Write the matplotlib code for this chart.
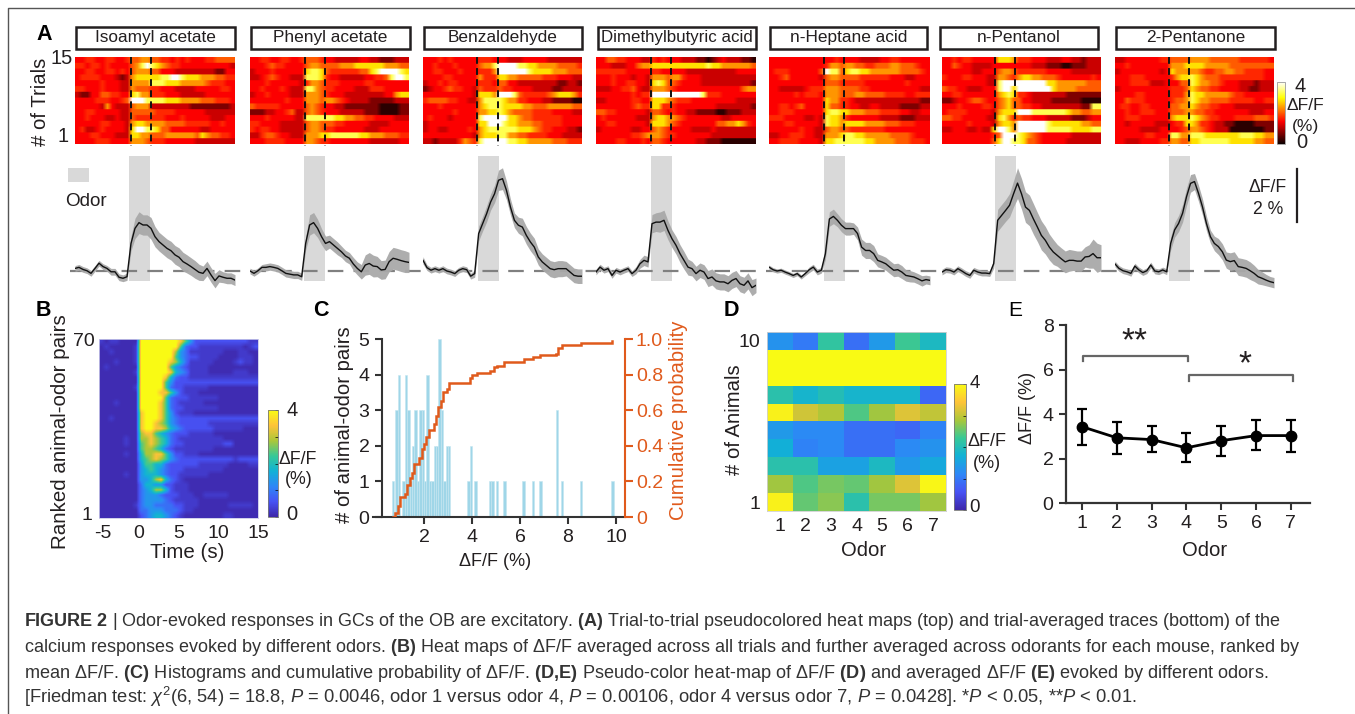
import numpy as np
import matplotlib
matplotlib.use("Agg")
import matplotlib.pyplot as plt
from matplotlib.colors import LinearSegmentedColormap
from matplotlib.patches import Rectangle
from matplotlib.transforms import ScaledTranslation

plt.rcParams['font.family'] = ['Liberation Sans', 'DejaVu Sans']
plt.rcParams['mathtext.fontset'] = 'custom'
plt.rcParams['mathtext.rm'] = 'Liberation Sans'
plt.rcParams['mathtext.it'] = 'Liberation Sans:italic'
plt.rcParams['mathtext.bf'] = 'Liberation Sans:bold'
plt.rcParams['mathtext.fallback'] = 'stixsans'

W, H = 1355, 714

odors = ["Isoamyl acetate", "Phenyl acetate", "Benzaldehyde", "Dimethylbutyric acid",
         "n-Heptane acid", "n-Pentanol", "2-Pentanone"]

heat1 = ["33443344334556655443434333445555","44344343333568987654433333333332","33443344343566655333222222221133",
         "34444333212677777889987776665544","33333433322666688877766666544433","44333433322655544333222233333443",
         "21133554433786644433322222333333","33334443345999888877766665554443","33333263222566622222222111111112",
         "33443333322555554444333333222222","33433322322544444433343333322233","33333443332677666655554444433433",
         "34223433332799887553333332233333","33344333222776655566666657655443","33334443333666544433333322222222"]
heat2 = ["33443344334555433222223322111222","33345443333566555566677777766655","23334333333788754444445578999987",
         "22345433222888743322222334458998","33343333332466544433333443333333","33433343222886544333322244433333",
         "23343333222666543332222222233677","33333334333666566543222211111222","54444433333565433221111111000011",
         "11122334522565433322222111000011","33343333322888888776655443333222","44333322222566555443333322223333",
         "43443322222566544333333222333333","22455433222666778888887766655544","33344443333665443333333322222233"]
heat3 = ["33343433333444333222333332222222","33433343333566899998877666655554","33443334333444699999987777666555",
         "33334433333644477665555544433322","23343443333444355332222222211221","12334544332544454433332222112222",
         "33333333332777699985444445677764","45555443322688887664433322111100","33343333333678887777665556666655",
         "33333343333667787655554444333322","34333233333899999776554444443333","23333333333779998776665544443333",
         "23322333343678888887776544333221","33333333332677788665544443332222","22122224654899999887766666555444"]
heat4 = ["33554433322434333222110123222110","33322233566777777777778776666665","44444433333443333322222222223333",
         "33343332332666566433322222222222","33343344332787554333322222222221","22233445322666543333333333333566",
         "33333334344999999999984443333333","22333334433777654443333333332222","33333334544774443333333322222221",
         "55443333332554343322111100111222","34333333222677665433333332233333","33443333332777654333333355667643",
         "23333332233565433332222322222222","33333334456665443333333222222222","33334433343554333333221110000000"]
heat5 = ["33333333333334333322223344333333","33333333333466566554455566555433","34443333335988578877666666555543",
         "33453333332566555544444433322333","33333333333555444443333333343333","33222223444666555544333333333322",
         "33333434443666555665555444433444","33333333333766443222222222222211","33443453333755443322332222111122",
         "33444333333788776665554444332233","44433332232877643333332222111222","33344333332877677776666555444333",
         "33333343322566554444444333333333","22334443322666788776666655554333","33444433332778888887766665554443"]
heat6 = ["33434433333777644433322233221222","33543322223333333322211100111222","33333322333566544444433333222222",
         "43334433322665467766555433333343","33333333322899999999977666666555","54433222333899799999997666655555",
         "33443333333678744322222221111111","11233455433567553322221111110000","33343333443567554433222222221188",
         "34444333332677799988888887665566","55443333322786454433322222111233","33333433332677699999987777776655",
         "22333223227998699999988888777788","33333333334599987654333333222222","33333333335799887554333332222222"]
heat7 = ["22333333344555566665555554444443","33433333333666777766666555555555","23333333323766666544556655444433",
         "33344433333467787655544444444433","33344442223335587665543332221222","23333333333444576554433332211222",
         "33334433333444687766666544333333","33544433333455687665555444443344","34433443333556676554433322222222",
         "33433444333555665544333333322233","33444333333677787654433344445554","33233333222344776443221100001111",
         "33333222233334566543222000000011","33333344333886688877777778887766","33222333344665577888888777776655"]
trial_heat = [heat1, heat2, heat3, heat4, heat5, heat6, heat7]
# ΔF/F (%) meant by each digit of the strings above
trial_levels = [0.2, 0.7, 1.15, 1.45, 1.7, 2.0, 2.35, 2.8, 3.3, 4.0]
rank_levels = [0.08, 0.28, 0.55, 0.9, 1.35, 1.8, 2.35, 2.85, 3.4, 4.0]

trace1 = [.10,.14,.06,.01,-.09,.10,.30,.17,.10,-.03,-.03,-.24,-.28,-.22,1.06,1.64,1.86,1.77,1.77,1.64,1.32,1.13,1.00,.87,.78,.62,.53,.36,.27,.17,.06,-.05,-.09,.10,-.15,-.37,-.19,-.24,-.28,-.28,-.35]
trace2 = [0,-.09,.01,.14,.14,.17,.14,.10,.01,-.09,-.12,-.15,-.15,-.22,1.06,1.77,1.86,1.64,1.32,1.06,1.13,1.00,.87,.74,.58,.49,.27,.10,-.03,.23,.29,.19,.17,.04,.06,.36,.49,.45,.40,.36,.33]
trace3 = [.41,.13,.03,.09,.03,.09,0,-.04,-.10,.03,.09,.05,-.20,-.10,1.44,1.82,2.20,2.65,2.97,3.49,3.55,3.10,2.46,1.95,1.76,1.69,1.37,1.12,.92,.54,.35,.22,.09,.05,.09,.09,.09,-.04,-.17,-.20,-.20]
trace4 = [-.04,.15,.03,.09,-.17,.03,-.04,.03,.09,-.10,.03,.28,.41,.35,1.82,1.88,1.88,1.95,1.56,1.24,.99,.67,.41,.15,.09,-.10,.03,-.04,-.29,-.23,-.38,-.42,-.42,-.49,-.36,-.29,-.49,-.55,-.38,-.64,-.55]
trace5 = [.15,.05,0,.03,-.04,-.10,-.17,-.10,-.23,-.10,.05,.15,-.04,.03,.66,2.00,2.10,1.95,1.76,1.63,1.63,1.63,1.44,.92,.79,.79,.67,.41,.35,.28,.15,.03,.05,-.04,-.17,-.20,-.23,-.30,-.38,-.33,-.36]
trace6 = [-.04,.05,.03,-.04,.09,0,-.10,-.17,.03,-.04,-.08,-.08,-.10,.28,1.95,2.14,2.33,2.53,2.97,3.38,2.97,2.46,2.33,2.00,1.69,1.37,1.18,.92,.73,.60,.47,.35,.41,.41,.38,.38,.54,.56,.67,.51,.51]
trace7 = [.27,.10,.01,-.03,-.09,.19,.04,-.06,.01,.23,0,-.03,.04,-.03,1.06,1.58,1.83,2.22,2.86,3.37,3.44,2.99,2.47,1.83,1.32,1.06,.94,.74,.42,.36,.40,.17,.14,.10,.01,-.09,-.22,-.28,-.35,-.41,-.45]
traces = [trace1, trace2, trace3, trace4, trace5, trace6, trace7]

sem1 = [.11,.11,.11,.11,.11,.11,.11,.11,.11,.13,.13,.13,.13,.14,.28,.39,.42,.39,.39,.42,.39,.36,.36,.36,.36,.36,.36,.36,.35,.34,.34,.31,.28,.28,.28,.28,.24,.21,.21,.21,.21]
sem2 = [.11,.11,.11,.11,.14,.14,.14,.14,.14,.14,.14,.14,.14,.14,.25,.39,.39,.35,.31,.28,.25,.25,.25,.22,.22,.22,.25,.25,.28,.39,.42,.42,.39,.36,.36,.39,.42,.42,.42,.42,.39]
sem3 = [.14,.11,.11,.11,.11,.11,.11,.11,.11,.11,.11,.11,.11,.14,.28,.28,.31,.31,.34,.39,.42,.36,.31,.28,.31,.34,.34,.34,.34,.31,.31,.31,.31,.31,.31,.31,.28,.28,.28,.28,.28]
sem4 = [.11,.11,.11,.11,.11,.11,.11,.11,.11,.11,.14,.17,.20,.20,.35,.36,.39,.39,.36,.34,.34,.34,.34,.31,.28,.28,.28,.28,.31,.31,.31,.31,.31,.31,.31,.31,.31,.31,.31,.31,.28]
sem5 = [.08,.08,.08,.08,.08,.08,.08,.08,.08,.08,.11,.11,.11,.11,.22,.28,.28,.25,.25,.25,.25,.22,.25,.31,.31,.31,.31,.25,.25,.25,.25,.25,.25,.25,.22,.22,.20,.20,.20,.17,.17]
sem6 = [.11,.11,.11,.11,.11,.11,.11,.11,.11,.11,.11,.11,.11,.17,.42,.42,.42,.45,.50,.59,.59,.59,.59,.59,.56,.56,.53,.50,.48,.42,.42,.42,.42,.39,.39,.39,.39,.45,.56,.56,.50]
sem7 = [.11,.11,.11,.11,.11,.11,.11,.11,.11,.11,.11,.11,.11,.11,.25,.28,.31,.34,.34,.34,.31,.31,.31,.28,.25,.28,.31,.31,.31,.34,.34,.34,.34,.34,.34,.31,.28,.25,.22,.20,.20]
sems = [sem1, sem2, sem3, sem4, sem5, sem6, sem7]

rank_heat = [
 "10110000"+"999999998642222222222211","01000001"+"999999996322111111111012","00100001"+"999999974311111110001100",
 "00000001"+"999999964322111100001110","00010001"+"999999875311111000012110","01000000"+"999999643211110000000000",
 "00000001"+"999999854311110000011100","00000000"+"999998532211111111111111","00000000"+"999996422222222222222222",
 "00000001"+"999996322111110000000000","00000000"+"999988642111000000000000","00000000"+"999996322211111100000000",
 "00010000"+"999986321111100000000000","00000000"+"999986322111111100000000","00000000"+"899986421110000000000000",
 "00100000"+"899986432222222222222222","00000000"+"899876432222221111111111","00000000"+"899887543222222111111000",
 "00000000"+"788654322211111000000000","00000100"+"778765321111111110000000","00000100"+"678765322111111112200000",
 "00000000"+"677653211111111000000000","00000100"+"577886422111000000000000","00000000"+"567876432222222222212222",
 "00000000"+"466553222222111111000011","00000000"+"456543222111111110000000","00000100"+"455543221111110000000000",
 "00000000"+"445785321000000000000000","00000000"+"355442211100000000000000","00000000"+"345775211100000000000000",
 "00000000"+"344432221110011111000000","00000000"+"344443211111000000000000","00000001"+"344333322111000000111110",
 "00000000"+"334443332110000000000000","00000000"+"234554321000000001100000"]

hist_x = [.7,.85,.95,1.15,1.25,1.35,1.45,1.55,1.65,1.75,1.85,1.95,2.05,2.15,2.25,2.35,2.45,2.55,2.65,2.75,2.85,2.95,3.05,3.85,3.95,4.15,4.75,4.85,5.05,5.35,6.15,6.55,6.85,7.55,7.75,8.55,9.85]
hist_n = [1,3,4,1,4,3,1,2,3,1,3,3,1,4,1,1,2,2,5,3,1,2,2,1,2,1,1,1,1,1,1,1,1,3,1,1,1]
cdf_x = [.7,.8,.9,1.0,1.2,1.3,1.4,1.5,1.6,1.8,1.9,2.0,2.1,2.2,2.4,2.5,2.6,2.7,2.8,2.95,3.05,3.8,3.9,4.0,4.2,4.75,4.9,5.05,5.35,6.15,6.55,6.85,7.5,7.6,7.75,8.55,9.85]
cdf_y = [0,.02,.06,.11,.13,.18,.22,.25,.30,.33,.38,.41,.45,.49,.52,.57,.62,.65,.70,.72,.755,.755,.78,.80,.81,.82,.84,.85,.87,.885,.90,.91,.915,.95,.965,.98,.99]

animal_heat = [[1.3,1.0,2.2,0.9,1.4,2.3,1.9],[4,4,4,4,4,4,4],[4,4,4,4,4,4,4],
               [2.1,1.8,2.0,1.8,1.8,1.8,0.8],[3.9,3.1,2.9,2.4,2.8,3.2,3.0],[1.4,1.2,1.2,0.9,0.9,0.8,1.1],
               [1.7,1.1,1.2,0.9,0.9,1.2,1.3],[2.1,2.1,1.5,1.5,1.9,1.4,1.6],[2.8,2.4,2.6,2.5,2.8,3.2,3.95],
               [3.9,2.5,2.7,2.1,2.6,2.6,2.8]]

odor_ids = [1,2,3,4,5,6,7]
odor_mean = [3.43,2.93,2.85,2.48,2.8,3.03,3.03]
odor_hi = [4.22,3.65,3.45,3.13,3.45,3.75,3.75]
odor_lo = [2.6,2.2,2.28,1.83,2.12,2.38,2.28]

captions = [
 (622, r"$\mathbf{FIGURE\ 2}$ | Odor-evoked responses in GCs of the OB are excitatory. $\mathbf{(A)}$ Trial-to-trial pseudocolored heat maps (top) and trial-averaged traces (bottom) of the", 1261),
 (647, r"calcium responses evoked by different odors. $\mathbf{(B)}$ Heat maps of ΔF/F averaged across all trials and further averaged across odorants for each mouse, ranked by", 1283),
 (673, r"mean ΔF/F. $\mathbf{(C)}$ Histograms and cumulative probability of ΔF/F. $\mathbf{(D{,}E)}$ Pseudo-color heat-map of ΔF/F $\mathbf{(D)}$ and averaged ΔF/F $\mathbf{(E)}$ evoked by different odors.", 1253),
 (697, r"[Friedman test: $\chi^{2}$(6, 54) = 18.8, $\mathit{P}$ = 0.0046, odor 1 versus odor 4, $\mathit{P}$ = 0.00106, odor 4 versus odor 7, $\mathit{P}$ = 0.0428]. *$\mathit{P}$ < 0.05, **$\mathit{P}$ < 0.01.", 1121),
]

parula = LinearSegmentedColormap.from_list("parula", [
    (0.2422,0.1504,0.6603),(0.2810,0.3228,0.9579),(0.1786,0.5289,0.9682),(0.0689,0.6948,0.8394),
    (0.2161,0.7843,0.5923),(0.6720,0.7793,0.2227),(0.9970,0.7659,0.2199),(0.9769,0.9839,0.0805)])

DARK = '#231f20'
ORANGE = '#e05a1c'

fig = plt.figure(figsize=(W/100, H/100), dpi=100)

def axpx(x0, y0, x1, y1, **kw):
    return fig.add_axes([x0/W, 1-y1/H, (x1-x0)/W, (y1-y0)/H], **kw)

ov = axpx(0, 0, W, H, zorder=1)
ov.set_xlim(0, W); ov.set_ylim(H, 0); ov.axis('off')
top = axpx(0, 0, W, H, zorder=10)
top.set_xlim(0, W); top.set_ylim(H, 0); top.axis('off'); top.patch.set_alpha(0)

def T(x, y, s, size=13.5, ha='center', va='center', **kw):
    kw.setdefault('color', DARK)
    return top.text(x, y, s, fontsize=size, ha=ha, va=va, **kw)

# frame
top.plot([8, 8, W], [H, 8, 8], color='#555555', lw=1)

# panel letters
for x, y, s in [(44, 34, 'A'), (43, 311, 'B'), (321, 311, 'C'), (731, 311, 'D')]:
    T(x, y, s, size=15.5, fontweight='bold', color='black')
T(1015, 311, 'E', size=15, fontweight='medium', color='black')

# Panel A
heat_x = [(75,235),(250,409),(423,582),(596,756),(769,930),(942,1101),(1115,1274)]
box_x = [(76,235),(251,410),(424,582),(598,756),(770,927),(940,1098),(1116,1275)]
on_off = [(130.7,150.7),(305,325),(477,498),(651,671),(824,844),(995,1015),(1169,1189)]
rect_x = [(129,150),(304,325),(478,499),(651,672),(824,845),(995,1016),(1169,1190)]
hot = plt.get_cmap('hot')
tl = np.array(trial_levels)
for i in range(7):
    x0, x1 = heat_x[i]
    ax = axpx(x0, 57, x1, 144, zorder=3)
    arr = tl[np.array([[int(c) for c in r.ljust(32, r[-1])[:32]] for r in trial_heat[i]])]
    # repeated rows keep trials crisp while the bilinear display blurs along time
    im_a = ax.imshow(np.repeat(arr, 8, axis=0), cmap=hot, vmin=0, vmax=4, aspect='auto',
                     interpolation='bilinear', origin='upper')
    ax.axis('off')
    b0, b1 = box_x[i]
    top.add_patch(Rectangle((b0, 27), b1-b0, 22, fc='white', ec=DARK, lw=1.8))
    T((b0+b1)/2, 37.5, odors[i], size=12.4 if i != 3 else 12.2)
    for xx in on_off[i]:
        top.plot([xx, xx], [57, 146], color='#111111', lw=1.4, dashes=(3.5, 2.2))
    r0, r1 = rect_x[i]
    ov.add_patch(Rectangle((r0, 156), r1-r0, 125, fc='#d9d9d9', ec='none', zorder=1))
    tr = axpx(x0, 150, x1, 300, zorder=5)
    tr.patch.set_alpha(0)
    tr.set_ylim(-(300-271)/26, (271-150)/26)
    tr.set_xlim(0, 40)
    xs = np.arange(41)
    y = np.array(traces[i]); s = np.array(sems[i])
    tr.fill_between(xs, y-s, y+s, color='#a9a9a9', lw=0, alpha=0.95)
    tr.plot(xs, y, color='#111111', lw=1)
    tr.axis('off')
ov.plot([70, 1279], [271, 271], color='#808080', lw=1.6, dashes=(7.0, 4.6), zorder=2)

# colorbar A
cax = axpx(1277, 82, 1285, 144, zorder=4)
cb = fig.colorbar(im_a, cax=cax)
cb.set_ticks([]); cb.outline.set_edgecolor('#999999'); cb.outline.set_linewidth(.6)
T(1300, 87, '4', size=14.5); T(1305, 105, 'ΔF/F', size=12.6); T(1306, 127, '(%)', size=12.6); T(1302, 143, '0', size=14.5)
T(41, 102, '# of Trials', size=14.6, rotation=90)
T(62, 58, '15', size=14.5); T(63, 137, '1', size=14.5)
# odor key and scale bar
top.add_patch(Rectangle((68, 168), 21, 14, fc='#d9d9d9', ec='none'))
T(86, 201, 'Odor', size=13.6)
top.plot([1297, 1297], [169, 222], color=DARK, lw=1.6)
T(1268, 187, 'ΔF/F', size=12.7); T(1268, 209, '2 %', size=12.7)

# Panel B
axb = axpx(99, 339, 258, 518, zorder=3)
arr = np.array(rank_levels)[np.array([[int(c) for c in r] for r in rank_heat])]
im_b = axb.imshow(arr, cmap=parula, vmin=0, vmax=4, aspect='auto', interpolation='bilinear',
                  extent=(-5, 15, 1, 70), origin='upper')
axb.set_xticks([-5, 0, 5, 10, 15], labels=['-5', '0', '5', '10', '15']); axb.set_yticks([1, 70])
axb.tick_params(length=0, labelsize=14, labelcolor=DARK)
axb.tick_params(axis='x', pad=5)
axb.tick_params(axis='y', pad=3)
for lb in axb.get_yticklabels()[:1]:
    lb.set_transform(lb.get_transform() + ScaledTranslation(-2/100, 4/100, fig.dpi_scale_trans))
for lb in axb.get_xticklabels()[:1]:
    lb.set_transform(lb.get_transform() + ScaledTranslation(4/100, 0, fig.dpi_scale_trans))
for s in axb.spines.values():
    s.set_edgecolor('#c9c9e8'); s.set_linewidth(.6)
cax = axpx(268, 410, 278, 517, zorder=4)
cb = fig.colorbar(im_b, cax=cax)
cb.set_ticks([0, 1, 2, 3, 4], labels=[]); cb.ax.tick_params(length=2, width=.5, direction='in')
cb.outline.set_edgecolor('#777777'); cb.outline.set_linewidth(.6)
T(292, 410, '4', size=14.5); T(292, 515, '0', size=14.5); T(298, 459, 'ΔF/F', size=12.8); T(299, 480, '(%)', size=12.8)
T(61, 432, 'Ranked animal-odor pairs', size=14.8, rotation=90)
T(187, 552, 'Time (s)', size=14.8)

# Panel C
axc = axpx(373, 339, 625, 517, zorder=3)
axc.patch.set_alpha(0)
axc.set_xlim(-0.125, 10.375); axc.set_ylim(0, 5)
axc.bar(hist_x, hist_n, width=0.1, color='#9fd6e8', edgecolor='#c5e6f1', linewidth=.4)
axc.set_xticks([2, 4, 6, 8, 10]); axc.set_yticks([0, 1, 2, 3, 4, 5])
axc.spines['top'].set_visible(False); axc.spines['right'].set_visible(False)
axc.spines['left'].set_position(('data', 0.25))
for s in ('left', 'bottom'):
    axc.spines[s].set_linewidth(1.5); axc.spines[s].set_color('#333333')
axc.tick_params(length=5, width=1.5, labelsize=14, color='#333333', labelcolor=DARK, pad=4)
axr = axc.twinx()
axr.patch.set_alpha(0)
axr.set_ylim(0, 1); axr.set_yticks([0, .2, .4, .6, .8, 1.0], labels=['0', '0.2', '0.4', '0.6', '0.8', '1.0'])
axr.plot(cdf_x, cdf_y, color=ORANGE, lw=1.8, drawstyle='steps-post', solid_joinstyle='miter')
for s in ('top', 'left', 'bottom'):
    axr.spines[s].set_visible(False)
axr.spines['right'].set_color(ORANGE); axr.spines['right'].set_linewidth(1.5)
axr.tick_params(length=5.8, width=1.5, color=ORANGE, labelcolor=ORANGE, labelsize=14, pad=2)
T(345, 425, '# of animal-odor pairs', size=14.6, rotation=90)
T(678, 420, 'Cumulative probability', size=14.6, rotation=90, color=ORANGE)
T(495, 562, 'ΔF/F (%)', size=13)

# Panel D
axd = axpx(767, 332, 946, 511, zorder=3)
im_d = axd.imshow(np.array(animal_heat), cmap=parula, vmin=0, vmax=4, aspect='auto', interpolation='nearest')
axd.set_xticks(range(7), labels=[str(v) for v in odor_ids])
axd.set_yticks([0, 9], labels=['10', '1'])
axd.tick_params(length=0, labelsize=14, pad=5, labelcolor=DARK)
for s in axd.spines.values():
    s.set_edgecolor('#d0d0d0'); s.set_linewidth(.6)
cax = axpx(954, 384, 966, 510, zorder=4)
cb = fig.colorbar(im_d, cax=cax)
cb.set_ticks([0, 1, 2, 3, 4], labels=[]); cb.ax.tick_params(length=2, width=.5, direction='in')
cb.outline.set_edgecolor('#777777'); cb.outline.set_linewidth(.6)
T(975, 383, '4', size=13.5); T(975, 508, '0', size=13.5); T(987, 442, 'ΔF/F', size=13); T(987, 463, '(%)', size=13)
T(734, 420, '# of Animals', size=14.6, rotation=90)
T(864, 551, 'Odor', size=14.6)

# Panel E
axe = axpx(1066, 325, 1310, 503, zorder=3)
axe.patch.set_alpha(0)
axe.set_xlim(0.54, 7.55); axe.set_ylim(0, 8)
m = np.array(odor_mean)
axe.errorbar(odor_ids, m, yerr=[m-np.array(odor_lo), np.array(odor_hi)-m], color='black', lw=2,
             elinewidth=1.6, capsize=3.5, capthick=1.6, marker='o', ms=7.5)
axe.set_xticks(odor_ids); axe.set_yticks([0, 2, 4, 6, 8])
axe.spines['top'].set_visible(False); axe.spines['right'].set_visible(False)
for s in ('left', 'bottom'):
    axe.spines[s].set_linewidth(1.6); axe.spines[s].set_color('#333333')
axe.tick_params(length=5, width=1.5, labelsize=14, color='#333333', labelcolor=DARK, pad=4)
T(1028, 408, 'ΔF/F (%)', size=13, rotation=90)
T(1205, 551, 'Odor', size=14.6)
top.plot([1083, 1083, 1188, 1188], [361, 356, 356, 361], color='#666666', lw=1.6)
top.plot([1189, 1189, 1293, 1293], [381, 375, 375, 381], color='#666666', lw=1.6)
T(1134, 342, '**', size=24); T(1245, 365, '*', size=24)

# caption
cap = [top.text(24, y, s, fontsize=11.3, ha='left', va='center', color='#333333') for y, s, _ in captions]
fig.canvas.draw()
rend = fig.canvas.get_renderer()
for t, (_, _, w) in zip(cap, captions):
    t.set_fontsize(11.3 * w / t.get_window_extent(rend).width)

fig.savefig('out.png', dpi=100)
